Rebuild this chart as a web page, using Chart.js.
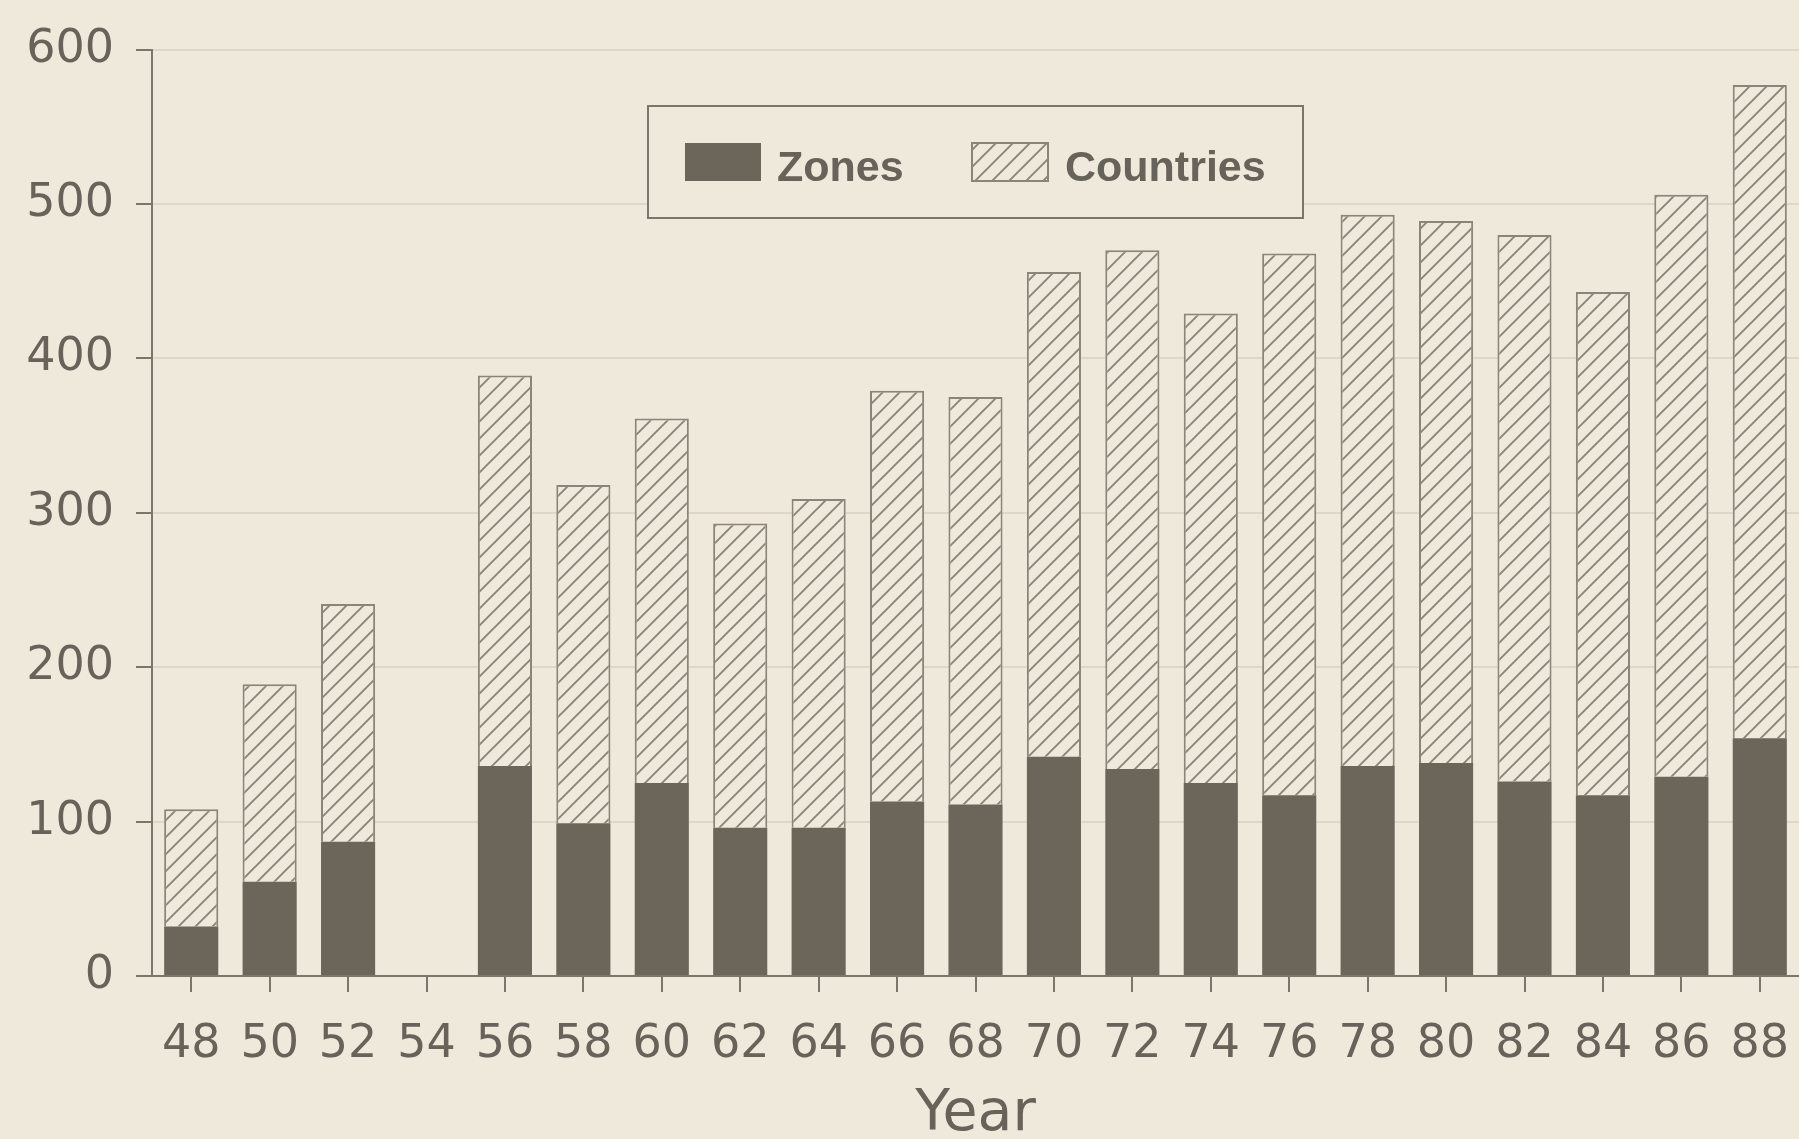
<!DOCTYPE html>
<html>
<head>
<meta charset="utf-8">
<title>Zones and Countries by Year</title>
<script src="https://cdn.jsdelivr.net/npm/chart.js@4.4.1/dist/chart.umd.min.js"></script>
<style>
  html, body { margin: 0; padding: 0; background: #efe9db; }
  #wrap { width: 1799px; height: 1139px; position: relative; overflow: hidden; }
  canvas { display: block; }
</style>
</head>
<body>
<div id="wrap"><canvas id="chart" width="1799" height="1139"></canvas></div>
<script>
// Year labels (19xx, every second year)
const years = ['48', '50', '52', '54', '56', '58', '60', '62', '64', '66', '68',
               '70', '72', '74', '76', '78', '80', '82', '84', '86', '88'];

// Zones worked (lower, solid segment)
const zones = [32, 61, 87, null, 136, 99, 125, 96, 96, 113, 111,
               142, 134, 125, 117, 136, 138, 126, 117, 129, 154];

// Countries worked (upper, hatched segment, stacked on zones)
const countries = [76, 128, 154, null, 253, 219, 236, 197, 213, 266, 264,
                   314, 336, 304, 351, 357, 351, 354, 326, 377, 423];

// Value axis
const yMin = 0;
const yMax = 600;
const yStep = 100;

const seriesNames = ['Zones', 'Countries'];

const PAPER = '#efe9db';
const INK = '#67635a';
const AXIS = '#7a766b';
const SOLID = '#6b6659';
const HATCH_LINE = '#8a8578';

function makeHatch(bg, fg, size, lw) {
  const c = document.createElement('canvas');
  c.width = size; c.height = size;
  const g = c.getContext('2d');
  g.fillStyle = bg;
  g.fillRect(0, 0, size, size);
  g.strokeStyle = fg;
  g.lineWidth = lw;
  g.beginPath();
  g.moveTo(-size / 2, size / 2); g.lineTo(size / 2, -size / 2);
  g.moveTo(0, size); g.lineTo(size, 0);
  g.moveTo(size / 2, size * 1.5); g.lineTo(size * 1.5, size / 2);
  g.stroke();
  return g.createPattern(c, 'repeat');
}

const hatch = makeHatch(PAPER, HATCH_LINE, 17, 1.9);

// Paper-coloured canvas background
const paperBg = {
  id: 'paperBg',
  beforeDraw(chart) {
    const { ctx, width, height } = chart;
    ctx.save();
    ctx.fillStyle = PAPER;
    ctx.fillRect(0, 0, width, height);
    ctx.restore();
  }
};

// Boxed legend sitting inside the plot area
const boxedLegend = {
  id: 'boxedLegend',
  afterDraw(chart) {
    const ctx = chart.ctx;
    const ds = chart.data.datasets;
    const box = { x: 648, y: 106, w: 655, h: 112 };
    ctx.save();
    ctx.fillStyle = PAPER;
    ctx.fillRect(box.x, box.y, box.w, box.h);
    ctx.strokeStyle = AXIS;
    ctx.lineWidth = 2;
    ctx.strokeRect(box.x, box.y, box.w, box.h);

    const items = [
      { sx: 685, tx: 777 },
      { sx: 972, tx: 1065 }
    ];
    const sy = 143, sw = 76, sh = 38;
    ctx.font = 'bold 43px "Liberation Sans", Arial, sans-serif';
    ctx.textBaseline = 'middle';
    ctx.textAlign = 'left';
    items.forEach((it, i) => {
      ctx.fillStyle = ds[i].backgroundColor;
      ctx.fillRect(it.sx, sy, sw, sh);
      if (ds[i].borderWidth) {
        ctx.strokeStyle = ds[i].borderColor;
        ctx.lineWidth = 2;
        ctx.strokeRect(it.sx, sy, sw, sh);
      }
      ctx.fillStyle = INK;
      ctx.fillText(ds[i].label, it.tx, sy + sh / 2 + 7);
    });
    ctx.restore();
  }
};

new Chart(document.getElementById('chart'), {
  type: 'bar',
  data: {
    labels: years,
    datasets: [
      {
        label: seriesNames[0],
        data: zones,
        backgroundColor: SOLID,
        borderWidth: 0,
        barPercentage: 0.69,
        categoryPercentage: 1.0
      },
      {
        label: seriesNames[1],
        data: countries,
        backgroundColor: hatch,
        borderColor: HATCH_LINE,
        borderWidth: 2,
        barPercentage: 0.69,
        categoryPercentage: 1.0
      }
    ]
  },
  options: {
    responsive: false,
    devicePixelRatio: 1,
    animation: false,
    layout: { padding: { top: 49, right: -3, bottom: 0, left: 0 } },
    plugins: {
      legend: { display: false },
      tooltip: { enabled: false }
    },
    scales: {
      x: {
        stacked: true,
        offset: true,
        grid: {
          display: true,
          offset: false,
          drawOnChartArea: false,
          drawTicks: true,
          tickLength: 16,
          tickColor: AXIS,
          lineWidth: 2
        },
        border: { display: true, color: AXIS, width: 2 },
        ticks: {
          color: INK,
          padding: 25,
          maxRotation: 0,
          autoSkip: false,
          font: { family: '"DejaVu Sans", sans-serif', size: 46 }
        },
        title: {
          display: true,
          text: 'Year',
          color: INK,
          padding: { top: 0, bottom: 1 },
          font: { family: '"DejaVu Sans", sans-serif', size: 57, lineHeight: 0.8 }
        },
        afterFit(scale) {
          scale.height = 163;
          // labels fit inside their category slots; no side padding needed
          scale.paddingLeft = 0;
          scale.paddingRight = 0;
        }
      },
      y: {
        stacked: true,
        min: yMin,
        max: yMax,
        grid: {
          color: 'rgba(205, 198, 180, 0.5)',
          lineWidth: 2,
          drawTicks: true,
          tickLength: 16,
          tickColor: AXIS
        },
        border: { display: true, color: AXIS, width: 2 },
        ticks: {
          stepSize: yStep,
          color: INK,
          padding: 22,
          font: { family: '"DejaVu Sans", sans-serif', size: 46 }
        },
        afterFit(scale) { scale.width = 152; }
      }
    }
  },
  plugins: [paperBg, boxedLegend]
});
</script>
</body>
</html>
